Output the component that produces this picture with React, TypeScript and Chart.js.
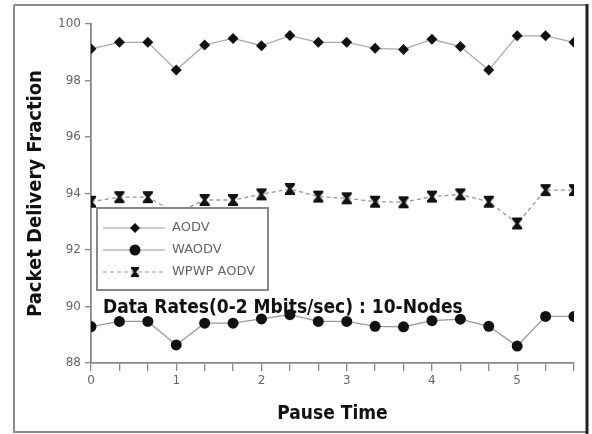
import React, { useEffect, useRef } from "react";
import { Chart, registerables } from "chart.js";

Chart.register(...registerables);

const pauseTimes = [0, 1 / 3, 2 / 3, 1, 4 / 3, 5 / 3, 2, 7 / 3, 8 / 3, 3, 10 / 3, 11 / 3, 4, 13 / 3, 14 / 3, 5, 16 / 3, 17 / 3];
const aodv = [99.12, 99.35, 99.35, 98.37, 99.26, 99.49, 99.23, 99.59, 99.35, 99.35, 99.14, 99.1, 99.46, 99.2, 98.37, 99.58, 99.58, 99.35];
const waodv = [89.29, 89.47, 89.47, 88.64, 89.41, 89.41, 89.56, 89.71, 89.47, 89.47, 89.3, 89.28, 89.5, 89.55, 89.3, 88.6, 89.65, 89.65];
const wpwpAodv = [93.71, 93.87, 93.87, 93.3, 93.77, 93.77, 93.97, 94.16, 93.89, 93.83, 93.71, 93.69, 93.89, 93.97, 93.71, 92.94, 94.12, 94.12];
const seriesLabels = ["AODV", "WAODV", "WPWP AODV"];
const yTicks = [88, 90, 92, 94, 96, 98, 100];
const xMajorTicks = [0, 1, 2, 3, 4, 5];
const annotationText = "Data Rates(0-2 Mbits/sec) : 10-Nodes";
const annotationPos = { x: 0.14, y: 89.77 };

function makeHourglass(): HTMLCanvasElement {
  const c = document.createElement("canvas");
  c.width = 12;
  c.height = 14;
  const g = c.getContext("2d")!;
  g.fillStyle = "#111";
  g.beginPath();
  g.moveTo(1, 1);
  g.lineTo(11, 1);
  g.lineTo(11, 3);
  g.lineTo(7.5, 7);
  g.lineTo(11, 11);
  g.lineTo(11, 13);
  g.lineTo(1, 13);
  g.lineTo(1, 11);
  g.lineTo(4.5, 7);
  g.lineTo(1, 3);
  g.closePath();
  g.fill();
  return c;
}

export default function App() {
  const ref = useRef<HTMLCanvasElement>(null);
  useEffect(() => {
    const hourglass = makeHourglass();
    const toPts = (arr: number[]) => arr.map((v, i) => ({ x: pauseTimes[i], y: v }));

    const framePlugin = {
      id: "frame",
      beforeDraw(chart: any) {
        const ctx = chart.ctx;
        ctx.save();
        ctx.fillStyle = "#fff";
        ctx.fillRect(0, 0, chart.width, chart.height);
        ctx.strokeStyle = "#8a8a8a";
        ctx.lineWidth = 2;
        ctx.beginPath();
        ctx.moveTo(14, 5);
        ctx.lineTo(587, 5);
        ctx.moveTo(14, 5);
        ctx.lineTo(14, 432);
        ctx.lineTo(587, 432);
        ctx.stroke();
        ctx.strokeStyle = "#222";
        ctx.lineWidth = 3;
        ctx.beginPath();
        ctx.moveTo(587, 4);
        ctx.lineTo(587, 434);
        ctx.stroke();
        ctx.restore();
      },
    };

    const overlayPlugin = {
      id: "overlay",
      afterDatasetsDraw(chart: any) {
        const ctx = chart.ctx;
        const { left, top } = chart.chartArea;
        const xs = chart.scales.x;
        const ys = chart.scales.y;
        ctx.save();
        ctx.fillStyle = "#111";
        ctx.font = "bold 19px 'DejaVu Sans Condensed', 'DejaVu Sans', sans-serif";
        ctx.textBaseline = "alphabetic";
        ctx.textAlign = "left";
        ctx.fillText(annotationText, xs.getPixelForValue(annotationPos.x), ys.getPixelForValue(annotationPos.y));
        const bx = left + 6;
        const by = top + 184;
        const bw = 171;
        const bh = 82;
        ctx.fillStyle = "#fff";
        ctx.fillRect(bx, by, bw, bh);
        ctx.strokeStyle = "#888";
        ctx.lineWidth = 2;
        ctx.strokeRect(bx, by, bw, bh);
        chart.data.datasets.forEach((ds: any, i: number) => {
          const y = by + 20 + i * 22;
          ctx.strokeStyle = "#999";
          ctx.lineWidth = 1.2;
          ctx.setLineDash(ds.borderDash || []);
          ctx.beginPath();
          ctx.moveTo(bx + 6, y);
          ctx.lineTo(bx + 68, y);
          ctx.stroke();
          ctx.setLineDash([]);
          const mx = bx + 38;
          ctx.fillStyle = "#111";
          if (ds.pointStyle === "rectRot") {
            ctx.beginPath();
            ctx.moveTo(mx, y - 5);
            ctx.lineTo(mx + 5, y);
            ctx.lineTo(mx, y + 5);
            ctx.lineTo(mx - 5, y);
            ctx.closePath();
            ctx.fill();
          } else if (ds.pointStyle === "circle") {
            ctx.beginPath();
            ctx.arc(mx, y, 5.5, 0, Math.PI * 2);
            ctx.fill();
          } else {
            ctx.drawImage(hourglass, mx - 5, y - 6, 10, 12);
          }
          ctx.fillStyle = "#666";
          ctx.font = "13px 'DejaVu Sans', sans-serif";
          ctx.textBaseline = "middle";
          ctx.fillText(ds.label, bx + 75, y);
        });
        ctx.restore();
      },
    };

    const chart = new Chart(ref.current!, {
      type: "line",
      data: {
        datasets: [
          {
            label: seriesLabels[0],
            data: toPts(aodv),
            borderColor: "#aaa",
            borderWidth: 1.3,
            pointStyle: "rectRot",
            pointRadius: 5.5,
            pointBackgroundColor: "#111",
            pointBorderColor: "#111",
            pointBorderWidth: 0,
          },
          {
            label: seriesLabels[1],
            data: toPts(waodv),
            borderColor: "#999",
            borderWidth: 1.3,
            pointStyle: "circle",
            pointRadius: 5.5,
            pointBackgroundColor: "#111",
            pointBorderColor: "#111",
            pointBorderWidth: 0,
          },
          {
            label: seriesLabels[2],
            data: toPts(wpwpAodv),
            borderColor: "#999",
            borderWidth: 1.3,
            borderDash: [4, 3],
            pointStyle: hourglass as any,
            pointRadius: 6,
          },
        ],
      },
      options: {
        animation: false,
        responsive: false,
        layout: { padding: { left: 16, top: 24, right: 18, bottom: 4 } },
        plugins: { legend: { display: false }, tooltip: { enabled: false } },
        scales: {
          x: {
            type: "linear",
            min: 0,
            max: pauseTimes[pauseTimes.length - 1],
            afterBuildTicks: (scale: any) => {
              scale.ticks = pauseTimes.map((v) => ({ value: v }));
            },
            afterFit: (scale: any) => {
              scale.height = 67;
            },
            ticks: {
              autoSkip: false,
              maxRotation: 0,
              padding: 3,
              color: "#666",
              font: { family: "'DejaVu Sans', sans-serif", size: 12 },
              callback: (v: any) => {
                const n = Number(v);
                const r = Math.round(n);
                return Math.abs(n - r) < 1e-6 && xMajorTicks.includes(r) ? String(r) : "";
              },
            },
            grid: { drawOnChartArea: false, drawTicks: true, tickLength: 8, color: "#888", lineWidth: 1.3 },
            border: { display: true, color: "#888", width: 1.8 },
            title: {
              display: true,
              text: "Pause Time",
              color: "#111",
              font: { family: "'DejaVu Sans Condensed', 'DejaVu Sans', sans-serif", size: 19, weight: "bold" },
              padding: { top: 0, bottom: 5 },
            },
          },
          y: {
            type: "linear",
            min: 88,
            max: 100,
            afterBuildTicks: (scale: any) => {
              scale.ticks = yTicks.map((v) => ({ value: v }));
            },
            afterFit: (scale: any) => {
              scale.width = 75;
            },
            ticks: {
              padding: 4,
              color: "#666",
              font: { family: "'DejaVu Sans', sans-serif", size: 12 },
            },
            grid: { drawOnChartArea: false, drawTicks: true, tickLength: 6, color: "#888", lineWidth: 1.3 },
            border: { display: true, color: "#888", width: 1.8 },
            title: {
              display: true,
              text: "Packet Delivery Fraction",
              color: "#111",
              font: { family: "'DejaVu Sans Condensed', 'DejaVu Sans', sans-serif", size: 20, weight: "bold" },
              padding: { top: 8, bottom: 0 },
            },
          },
        },
      },
      plugins: [framePlugin, overlayPlugin],
    });
    return () => chart.destroy();
  }, []);

  return (
    <div style={{ position: "fixed", left: 0, top: 0, width: 592, height: 434 }}>
      <canvas ref={ref} width={592} height={434} style={{ width: 592, height: 434 }} />
    </div>
  );
}
